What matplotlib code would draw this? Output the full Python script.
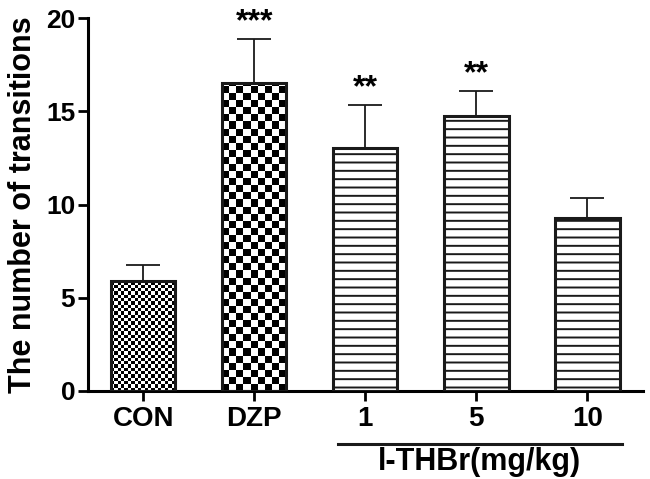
import numpy as np
import matplotlib.pyplot as plt
from matplotlib.transforms import blended_transform_factory

plt.rcParams['font.family'] = ['Liberation Sans', 'DejaVu Sans']
plt.rcParams['font.weight'] = 'bold'
plt.rcParams['hatch.linewidth'] = 1.4
plt.rcParams['hatch.color'] = '#1a1a1a'

# data
groups = ["CON", "DZP", "1", "5", "10"]
means = [5.9, 16.5, 13.05, 14.75, 9.3]
sems = [0.85, 2.4, 2.3, 1.35, 1.05]
stars = ["", "***", "**", "**", ""]
fills = ["fine", "coarse", "lines", "lines", "lines"]

fig = plt.figure(figsize=(6.5, 4.79), dpi=100)
ax = fig.add_axes([0.135, 0.184, 0.854, 0.778])

x = np.arange(len(groups))
faces = ['none' if f != "lines" else 'white' for f in fills]
bars = ax.bar(x, means, width=0.58, color=faces, edgecolor='#1a1a1a',
              linewidth=2.2, zorder=3)
ax.errorbar(x, means, yerr=[np.zeros(len(x)), sems], fmt='none',
            ecolor='#1a1a1a', elinewidth=1.3, capsize=12, capthick=1.3, zorder=2)

# checkerboard fills drawn as images clipped to the bar
cell = {"fine": (0.030, 0.178), "coarse": (0.064, 0.38)}
for b, f in zip(bars, fills):
    if f == "lines":
        b.set_hatch('--')
        continue
    dx, dy = cell[f]
    x0, w, h = b.get_x(), b.get_width(), b.get_height()
    nc = int(np.ceil(w / dx))
    nr = int(np.ceil(h / dy))
    board = (np.add.outer(np.arange(nr), np.arange(nc)) % 2).astype(float)
    im = ax.imshow(board, cmap='gray', vmin=0, vmax=1, interpolation='nearest',
                   origin='lower', extent=(x0, x0 + nc * dx, 0, nr * dy),
                   aspect='auto', zorder=2.5)
    im.set_clip_path(b)

for xi, m, s, st in zip(x, means, sems, stars):
    if st:
        ax.annotate(st, (xi, m + s), xytext=(0, 1), textcoords='offset points',
                    ha='center', va='bottom', fontsize=23, fontweight='bold')

ax.set_xlim(-0.5, 4.5)
ax.set_ylim(0, 20)
ax.set_yticks([0, 5, 10, 15, 20])
ax.set_xticks(x)
ax.set_xticklabels(groups, fontsize=20, fontweight='bold')
ax.tick_params(axis='y', labelsize=19, width=2, length=7, direction='out', pad=2)
ax.tick_params(axis='x', width=2, length=7, direction='out', pad=4)
for lab in ax.get_yticklabels():
    lab.set_fontweight('bold')
ax.set_ylabel("The number of transitions", fontsize=22, fontweight='bold', labelpad=6)

for side in ['top', 'right']:
    ax.spines[side].set_visible(False)
for side in ['left', 'bottom']:
    ax.spines[side].set_linewidth(2.2)

trans = blended_transform_factory(ax.transData, ax.transAxes)
ax.plot([1.75, 4.31], [-0.142, -0.142], color='#1a1a1a', lw=2.2,
        transform=trans, clip_on=False)
ax.text(3.03, -0.19, "l-THBr(mg/kg)", transform=trans, ha='center', va='center',
        fontsize=22, fontweight='bold')

fig.savefig("out.png", dpi=100)
